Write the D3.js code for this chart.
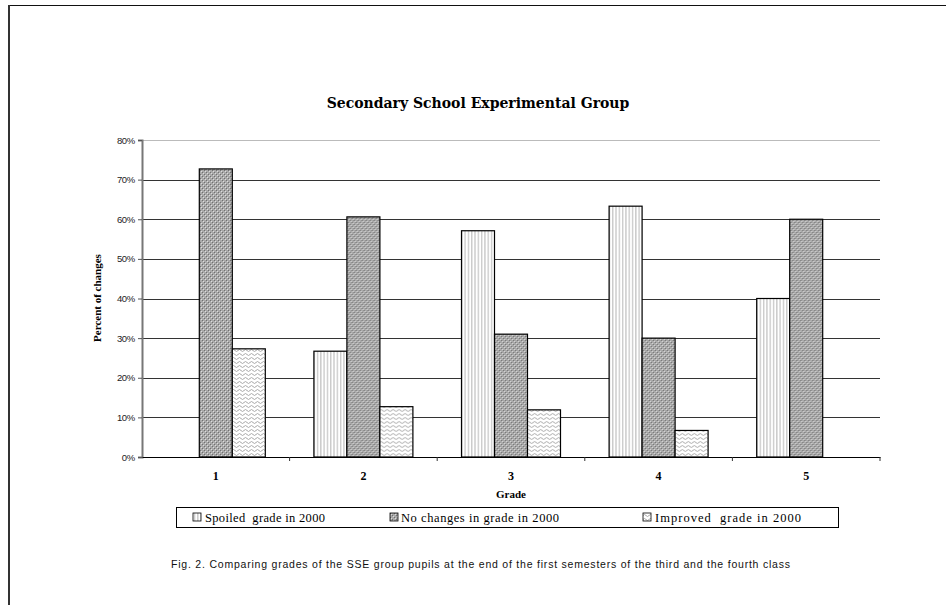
<!DOCTYPE html>
<html>
<head>
<meta charset="utf-8">
<script src="https://cdn.jsdelivr.net/npm/d3@7"></script>
<style>
  body { margin: 0; background: #fff; }
  svg { display: block; }
</style>
</head>
<body>
<div id="chart"></div>
<script>
// data
const grades = ['1', '2', '3', '4', '5']
const seriesNames = ['Spoiled  grade in 2000', 'No changes in grade in 2000', 'Improved  grade in 2000']
const spoiled = [0, 26.7, 57.1, 63.3, 40]
const noChanges = [72.7, 60.6, 31.0, 30.0, 60]
const improved = [27.3, 12.7, 11.9, 6.7, 0]
const yTicks = [0, 10, 20, 30, 40, 50, 60, 70, 80]

const width = 947
const height = 605
const margin = { top: 140, right: 67, bottom: 148, left: 142 }
const innerWidth = width - margin.left - margin.right
const innerHeight = height - margin.top - margin.bottom

const svg = d3.select('#chart')
    .append('svg')
    .attr('width', width)
    .attr('height', height)

// fill patterns, like the old excel hatches
const defs = svg.append('defs')

const stripes = defs.append('pattern')
    .attr('id', 'stripes')
    .attr('patternUnits', 'userSpaceOnUse')
    .attr('width', 3.3).attr('height', 4)
stripes.append('rect').attr('width', 3.3).attr('height', 4).attr('fill', '#fff')
stripes.append('rect').attr('x', 1).attr('width', 1.1).attr('height', 4).attr('fill', '#bdbdbd')

const checker = defs.append('pattern')
    .attr('id', 'checker')
    .attr('patternUnits', 'userSpaceOnUse')
    .attr('width', 4).attr('height', 4)
checker.append('rect').attr('width', 4).attr('height', 4).attr('fill', '#a9a9a9')
checker.append('rect').attr('x', 0).attr('y', 0).attr('width', 1).attr('height', 1).attr('fill', '#707070')
checker.append('rect').attr('x', 2).attr('y', 2).attr('width', 1).attr('height', 1).attr('fill', '#707070')
checker.append('rect').attr('x', 1).attr('y', 1).attr('width', 1).attr('height', 1).attr('fill', '#dcdcdc')
checker.append('rect').attr('x', 3).attr('y', 3).attr('width', 1).attr('height', 1).attr('fill', '#dcdcdc')

const waves = defs.append('pattern')
    .attr('id', 'waves')
    .attr('patternUnits', 'userSpaceOnUse')
    .attr('width', 6).attr('height', 4)
waves.append('rect').attr('width', 6).attr('height', 4).attr('fill', '#fff')
waves.append('path')
    .attr('d', 'M0 2.5 Q1.5 0.5 3 2.5 T6 2.5')
    .attr('fill', 'none')
    .attr('stroke', '#a0a0a0')
    .attr('stroke-width', 0.9)

const fills = ['url(#stripes)', 'url(#checker)', 'url(#waves)']

// page frame lines
svg.append('line')
    .attr('x1', 8).attr('x2', 946).attr('y1', 5.5).attr('y2', 5.5)
    .attr('stroke', '#111').attr('stroke-width', 1)
svg.append('line')
    .attr('x1', 9).attr('x2', 9).attr('y1', 5).attr('y2', height)
    .attr('stroke', '#333').attr('stroke-width', 2)

const chart = svg.append('g')
    .attr('transform', `translate(${margin.left},${margin.top})`)

const xScale = d3.scaleBand()
    .domain(grades)
    .range([0, innerWidth])

const groupScale = d3.scaleBand()
    .domain(d3.range(3))
    .range([xScale.bandwidth() / 2 - 50, xScale.bandwidth() / 2 + 49])

const yScale = d3.scaleLinear()
    .domain([0, 80])
    .range([innerHeight, 0])

// grid lines
chart.selectAll('.grid')
    .data(yTicks.filter(d => d > 0))
    .enter()
    .append('line')
    .attr('class', 'grid')
    .attr('x1', 0).attr('x2', innerWidth)
    .attr('y1', d => Math.round(yScale(d)) + 0.5)
    .attr('y2', d => Math.round(yScale(d)) + 0.5)
    .attr('stroke', d => d == 80 ? '#bbb' : '#333')
    .attr('stroke-width', 1)

// bars
const table = grades.map((g, i) => ({ grade: g, values: [spoiled[i], noChanges[i], improved[i]] }))

const groups = chart.selectAll('.group')
    .data(table)
    .enter()
    .append('g')
    .attr('class', 'group')
    .attr('transform', d => `translate(${xScale(d.grade)},0)`)

groups.selectAll('rect')
    .data(d => d.values.map((v, k) => ({ v: v, k: k })).filter(d => d.v > 0))
    .enter()
    .append('rect')
    .attr('x', d => groupScale(d.k) + 0.5)
    .attr('y', d => yScale(d.v))
    .attr('width', groupScale.bandwidth())
    .attr('height', d => innerHeight - yScale(d.v))
    .attr('fill', d => fills[d.k])
    .attr('stroke', '#000')
    .attr('stroke-width', 1.2)

// y axis
const yAxis = d3.axisLeft(yScale)
    .tickValues(yTicks)
    .tickSize(4)
    .tickFormat(d => d + '%')

const yG = chart.append('g')
    .call(yAxis)
    .attr('font-family', 'Liberation Sans, Arial, sans-serif')
    .attr('font-size', 9.5)
yG.select('.domain').attr('stroke', '#777').attr('stroke-width', 2)
yG.selectAll('.tick line').attr('stroke', '#555')
yG.selectAll('text')
    .attr('x', -7)
    .style('letter-spacing', '-0.3px')
    .attr('fill', '#222')

// x axis
const xAxis = d3.axisBottom(xScale)
    .tickSize(0)
    .tickPadding(14)

const xG = chart.append('g')
    .attr('transform', `translate(0,${innerHeight})`)
    .call(xAxis)
    .attr('font-family', 'Liberation Serif, Times New Roman, serif')
    .attr('font-size', 12)
    .attr('font-weight', 'bold')
xG.select('.domain').attr('stroke', '#000').attr('stroke-width', 1.2)

// category separators below the axis
chart.selectAll('.sep')
    .data(grades.slice(1).concat(['end']))
    .enter()
    .append('line')
    .attr('class', 'sep')
    .attr('x1', d => d == 'end' ? innerWidth : xScale(d))
    .attr('x2', d => d == 'end' ? innerWidth : xScale(d))
    .attr('y1', innerHeight)
    .attr('y2', innerHeight + 4)
    .attr('stroke', '#333')

// titles
svg.append('text')
    .attr('x', 478)
    .attr('y', 108)
    .attr('text-anchor', 'middle')
    .style('font-family', 'DejaVu Serif, serif')
    .style('font-weight', 'bold')
    .style('font-size', '14px')
    .text('Secondary School Experimental Group')

svg.append('text')
    .attr('x', 511)
    .attr('y', 498)
    .attr('text-anchor', 'middle')
    .style('font-family', 'Liberation Serif, Times New Roman, serif')
    .style('font-weight', 'bold')
    .style('font-size', '11px')
    .text('Grade')

svg.append('text')
    .attr('transform', 'translate(101,298) rotate(-90)')
    .attr('text-anchor', 'middle')
    .style('font-family', 'Liberation Serif, Times New Roman, serif')
    .style('font-weight', 'bold')
    .style('font-size', '11px')
    .text('Percent of changes')

// legend
svg.append('rect')
    .attr('x', 176.5).attr('y', 507.5)
    .attr('width', 662).attr('height', 20)
    .attr('fill', '#fff')
    .attr('stroke', '#000')

const legendX = [193, 390, 643]
const legendW = [120, 158, 146]
const legend = svg.selectAll('.legend')
    .data(seriesNames)
    .enter()
    .append('g')
    .attr('class', 'legend')
    .attr('transform', (d, i) => `translate(${legendX[i]},513)`)

legend.append('rect')
    .attr('width', 8).attr('height', 8)
    .attr('fill', (d, i) => fills[i])
    .attr('stroke', '#000')
    .attr('stroke-width', 0.8)

legend.append('text')
    .attr('x', (d, i) => i == 1 ? 11 : 12)
    .attr('y', 8.5)
    .attr('textLength', (d, i) => legendW[i])
    .style('font-family', 'Liberation Serif, Times New Roman, serif')
    .style('font-size', '12.5px')
    .style('white-space', 'pre')
    .text(d => d)

// caption
svg.append('text')
    .attr('x', 171)
    .attr('y', 568)
    .attr('textLength', 619)
    .style('font-family', 'Liberation Sans, Arial, sans-serif')
    .style('font-size', '10.5px')
    .attr('fill', '#111')
    .text('Fig. 2. Comparing grades of the SSE group pupils at the end of the first semesters of the third and the fourth class')
</script>
</body>
</html>
